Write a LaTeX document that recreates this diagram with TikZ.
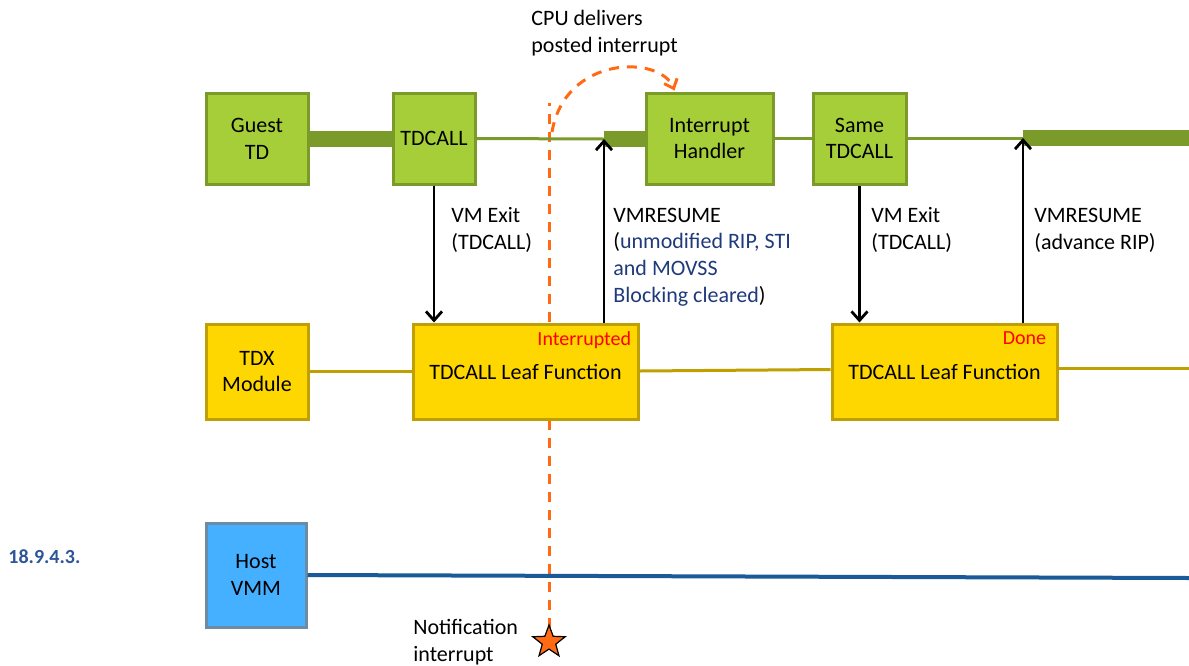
\documentclass[tikz,border=0pt]{standalone}
\usepackage{fontspec}
\setmainfont{Carlito}
\usetikzlibrary{arrows.meta,shapes.geometric,calc}
\definecolor{gfill}{HTML}{A6CE39}
\definecolor{gline}{HTML}{7A9A29}
\definecolor{yfill}{HTML}{FFD700}
\definecolor{yline}{HTML}{BFA000}
\definecolor{bfill}{HTML}{45B0FF}
\definecolor{bline}{HTML}{6C8CA6}
\definecolor{hline}{HTML}{1B5A99}
\definecolor{orng}{HTML}{FF6A13}
\definecolor{btext}{HTML}{1F3A7A}
\definecolor{sectc}{HTML}{2E5597}
\tikzset{
  txt/.style={font=\fontsize{11}{13.4}\selectfont, inner sep=0pt},
  gbox/.style={txt, draw=gline, fill=gfill, line width=1.5pt, align=center, minimum height=45.5pt},
  ybox/.style={txt, draw=yline, fill=yfill, line width=1.5pt, align=center, minimum height=47.5pt},
  bbox/.style={txt, draw=bline, fill=bfill, line width=1.5pt, align=center},
  thickg/.style={draw=gline, line width=8pt},
  thing/.style={draw=gline, line width=1.5pt},
  yl/.style={draw=yline, line width=1.5pt},
  arr/.style={draw=black, line width=1.4pt, -{Straight Barb[length=4.5pt,width=8pt,line width=1.4pt]}},
  odash/.style={draw=orng, line width=1.5pt, dash pattern=on 5pt off 4pt},
  lbl/.style={txt, align=left, anchor=west},
  stat/.style={font=\fontsize{10}{12}\selectfont, text=red, inner sep=0pt},
}
\begin{document}
\begin{tikzpicture}[x=0.5pt,y=-0.5pt]
\useasboundingbox (0,0) rectangle (1189,665);
% orange notification line (behind the boxes)
\coordinate (vtop) at (549,103);
\draw[odash] (549,628) -- (vtop);
\node[star, star points=5, star point ratio=2.4, fill=orng, draw=black, line width=0.6pt, minimum size=17pt, inner sep=0pt] (star) at (549,642) {};
% Guest TD row
\node[gbox, minimum width=51pt] (gtd) at (257,138.5) {Guest\\TD};
\node[gbox, minimum width=41pt] (tdc) at (434,138.5) {TDCALL};
\node[gbox, minimum width=63.5pt] (ih) at (709.5,138.5) {Interrupt\\Handler};
\node[gbox, minimum width=46.5pt] (sdt) at (859.5,138.5) {Same\\TDCALL};
\coordinate (r1) at (604,139);
\coordinate (r2) at (1023,138);
\coordinate (gend) at (1189,138);
\draw[thickg] (gtd.east) -- (tdc.west);
\draw[thing] (tdc.east) -- (r1);
\draw[thickg] (r1) -- (r1 -| ih.west);
\draw[thing] (ih.east) -- (sdt.west);
\draw[thing] (sdt.east |- r2) -- (r2);
\draw[thickg] (r2) -- (gend);
% TDX row
\node[ybox, minimum width=51pt] (tdx) at (257,371.5) {TDX\\Module};
\node[ybox, minimum width=112.5pt] (lf1) at (525.5,371.5) {TDCALL Leaf Function};
\node[ybox, minimum width=112.5pt] (lf2) at (944.5,371.5) {TDCALL Leaf Function};
\node[stat, anchor=north east] (st1) at ($(lf1.north east)+(-8,9)$) {Interrupted};
\node[stat, anchor=north east] (st2) at ($(lf2.north east)+(-12,9)$) {Done};
\coordinate (yend) at (1189,368);
\draw[yl] (tdx.east) -- (lf1.west);
\draw[yl] (lf1.east |- 0,371) -- (lf2.west |- 0,369.5);
\draw[yl] (lf2.east |- yend) -- (yend);
% Host row
\node[bbox, minimum width=50pt, minimum height=52pt] (hv) at (256,575) {Host\\VMM};
\coordinate (hend) at (1189,578);
\draw[draw=hline, line width=2pt] (hv.east) -- (hend);
\node[font=\fontsize{10}{12}\selectfont\bfseries, text=sectc, anchor=west, inner sep=0pt] (sec) at (8,557) {18.9.4.3.};
% arrows
\draw[arr] (tdc.south) -- (tdc.south |- lf1.north);
\draw[arr] (lf1.north -| r1) -- (r1);
\draw[arr] (sdt.south) -- (sdt.south |- lf2.north);
\draw[arr] (lf2.north -| r2) -- (r2);
\node[lbl] (l1) at (451,230) {VM Exit\\(TDCALL)};
\node[lbl] (l2) at (613,257) {VMRESUME\\(\textcolor{btext}{unmodified RIP, STI}\\\textcolor{btext}{and MOVSS}\\\textcolor{btext}{Blocking cleared})};
\node[lbl] (l3) at (871,230) {VM Exit\\(TDCALL)};
\node[lbl] (l4) at (1034,230) {VMRESUME\\(advance RIP)};
% posted interrupt delivery
\coordinate (cstart) at (552,132);
\coordinate (cend) at ($(ih.north west)+(30,-1)$);
\draw[odash, -{Straight Barb[length=4pt,width=7pt,line width=1.5pt]}] (cstart) .. controls (565,55) and (660,55) .. (cend);
\node[lbl] (cpu) at (531,33) {CPU delivers\\posted interrupt};
\node[lbl] (notif) at (413,642) {Notification\\interrupt};
\end{tikzpicture}
\end{document}
